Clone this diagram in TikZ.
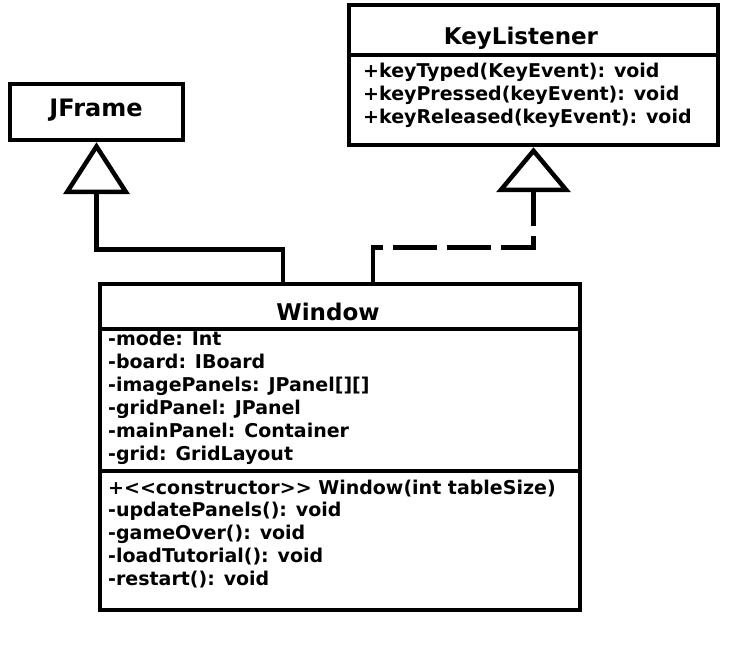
\documentclass[tikz,border=0pt]{standalone}
\usepackage{fontspec}
\setmainfont{DejaVu Sans}[Ligatures=TeXOff]
\usetikzlibrary{arrows.meta}
\begin{document}
\begin{tikzpicture}[x=1pt,y=-1pt,
  box/.style={draw=black,line width=4.5pt,rectangle,inner sep=0pt},
  sep/.style={line width=3.5pt},
  txt/.style={anchor=base west,inner sep=0pt,font=\fontsize{19}{19}\selectfont\bfseries},
  ttl/.style={anchor=base,inner sep=0pt,font=\fontsize{23}{23}\selectfont\bfseries},
  conn/.style={line width=4.5pt},
  inhA/.style={-{Triangle[open,length=52pt,width=66pt,line width=4.5pt]}},
  inhB/.style={-{Triangle[open,length=45pt,width=74pt,line width=4.5pt]}},
]
\useasboundingbox[fill=white] (0,0) rectangle (741,668);
% boxes
\node[box,minimum width=173pt,minimum height=56pt] (jf) at (96.5,112) {};
\node[box,minimum width=369pt,minimum height=140pt] (kl) at (533.5,75) {};
\node[box,minimum width=480pt,minimum height=326pt] (win) at (340,447) {};
% titles
\node[ttl,font=\fontsize{24}{24}\selectfont\bfseries] (jft) at (96,116.5) {JFrame};
\node[ttl] (klt) at (521,45) {KeyListener};
\node[ttl] (wint) at (328,320) {Window};
% separators
\draw[sep] (kl.west |- 0,55) -- (kl.east |- 0,55);
\draw[sep] (win.west |- 0,329) -- (win.east |- 0,329);
\draw[sep] (win.west |- 0,471) -- (win.east |- 0,471);
% KeyListener methods
\node[txt] (k1) at (363,77.5) {+keyTyped(KeyEvent): void};
\node[txt] (k2) at (363,100.8) {+keyPressed(keyEvent): void};
\node[txt] (k3) at (363,124) {+keyReleased(keyEvent): void};
% Window attributes
\node[txt] (a1) at (108,345) {-mode: Int};
\node[txt] (a2) at (108,368) {-board: IBoard};
\node[txt] (a3) at (108,391) {-imagePanels: JPanel[][]};
\node[txt] (a4) at (108,414) {-gridPanel: JPanel};
\node[txt] (a5) at (108,437) {-mainPanel: Container};
\node[txt] (a6) at (108,460) {-grid: GridLayout};
% Window methods
\node[txt] (m1) at (108,494) {+<<constructor>> Window(int tableSize)};
\node[txt] (m2) at (108,516.8) {-updatePanels(): void};
\node[txt] (m3) at (108,539.5) {-gameOver(): void};
\node[txt] (m4) at (108,562.3) {-loadTutorial(): void};
\node[txt] (m5) at (108,585) {-restart(): void};
% connectors
\path (win.north west) ++(185,0) coordinate (wa);
\path (win.north west) ++(275,0) coordinate (wb);
\draw[conn,inhA] (wa) -- ++(0,-32) -| (jf.south);
\draw[conn,inhB,dash pattern=on 44pt off 10pt] (wb) -- ++(0,-34) -| (kl.south);
\end{tikzpicture}
\end{document}
